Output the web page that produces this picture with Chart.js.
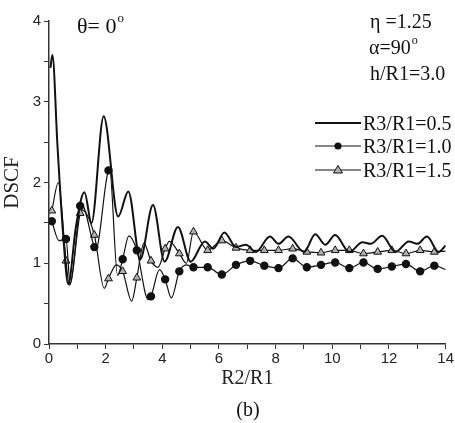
<!DOCTYPE html>
<html>
<head>
<meta charset="utf-8">
<script src="https://cdn.jsdelivr.net/npm/chart.js@4.4.1/dist/chart.umd.min.js"></script>
<style>
  html, body { margin: 0; padding: 0; background: #fff; }
</style>
</head>
<body>
<canvas id="dscfChart" width="455" height="423"></canvas>
<script>
// x positions where the symbols sit on the R3/R1=1.0 and 1.5 curves
const markX = [0.1, 0.6, 1.1, 1.6, 2.1, 2.6, 3.1, 3.6, 4.1, 4.6, 5.1, 5.6, 6.1, 6.6,
               7.1, 7.6, 8.1, 8.6, 9.1, 9.6, 10.1, 10.6, 11.1, 11.6, 12.1, 12.6, 13.1, 13.6];

// R3/R1 = 0.5 (plain thick line)
const r05X = [0.05, 0.12, 0.3, 0.5, 0.68, 0.95, 1.25, 1.5, 1.93, 2.44, 2.8, 3.22, 3.67, 4.08,
              4.55, 5.0, 5.5, 5.8, 6.19, 6.6, 6.95, 7.3, 7.8, 8.1, 8.45, 9.0, 9.4, 9.75, 10.1,
              10.6, 11.06, 11.35, 11.76, 12.23, 12.7, 13.0, 13.34, 13.75, 14.0];
const r05Y = [3.42, 3.58, 2.45, 1.35, 0.74, 1.45, 1.88, 1.5, 2.82, 1.58, 1.89, 1.05, 1.72, 1.02,
              1.45, 1.02, 1.27, 1.18, 1.38, 1.2, 1.23, 1.14, 1.33, 1.24, 1.33, 1.14, 1.36, 1.23, 1.35,
              1.14, 1.26, 1.24, 1.34, 1.14, 1.27, 1.24, 1.33, 1.14, 1.22];

// R3/R1 = 1.0 (filled dots): values at the symbols, then extra turning points
const r10Mark = [1.52, 1.30, 1.71, 1.20, 2.15, 1.05, 1.16, 0.59, 0.80, 0.90, 0.95, 0.95, 0.86, 0.98,
                 1.03, 0.97, 0.94, 1.06, 0.95, 0.98, 1.01, 0.94, 1.01, 0.93, 0.96, 0.99, 0.90, 0.97];
const r10ExtraX = [0.35, 0.75, 1.15, 1.65, 2.14, 2.42, 2.82, 3.5, 3.9, 4.32, 4.85, 14.0];
const r10ExtraY = [1.28, 0.74, 1.73, 1.17, 2.16, 0.85, 1.34, 0.55, 0.92, 0.57, 0.98, 0.92];

// R3/R1 = 1.5 (open triangles)
const r15Mark = [1.65, 1.03, 1.62, 1.35, 0.81, 0.90, 0.82, 1.03, 1.18, 1.12, 1.39, 1.16, 1.28, 1.19,
                 1.16, 1.16, 1.16, 1.18, 1.14, 1.13, 1.16, 1.16, 1.12, 1.14, 1.16, 1.12, 1.16, 1.14];
const r15ExtraX = [0.33, 0.72, 1.15, 1.95, 2.38, 2.92, 3.35, 3.85, 4.25, 4.85, 14.0];
const r15ExtraY = [2.0, 0.73, 1.66, 0.69, 0.98, 0.53, 1.25, 0.95, 1.27, 1.0, 1.15];

const xTicks = [0, 2, 4, 6, 8, 10, 12, 14];
const yTicks = [0, 1, 2, 3, 4];

function buildSeries(mark, ex, ey) {
    const pts = markX.map((x, i) => ({ x: x, y: mark[i], m: true }));
    ex.forEach((x, i) => pts.push({ x: x, y: ey[i], m: false }));
    return pts.sort((a, b) => a.x - b.x);
}

const serif = 'Liberation Serif, Times New Roman, serif';
const sans = 'Liberation Sans, Arial, sans-serif';

// texts, legend and caption drawn on top of the plot
const notes = {
    id: 'notes',
    afterDraw(chart) {
        const c = chart.ctx;
        c.save();
        c.fillStyle = '#111';
        c.textBaseline = 'alphabetic';
        c.textAlign = 'left';

        c.font = '22px ' + serif;
        c.fillText('\u03b8= 0', 77, 33);
        let w = c.measureText('\u03b8= 0').width;
        c.font = '13px ' + serif;
        c.fillText('o', 77 + w + 1, 22);

        c.font = '20px ' + serif;
        c.fillText('\u03b7 =1.25', 370, 28);
        c.fillText('\u03b1=90', 369, 54);
        w = c.measureText('\u03b1=90').width;
        c.font = '12px ' + serif;
        c.fillText('o', 369 + w + 1, 44);
        c.font = '20px ' + serif;
        c.fillText('h/R1=3.0', 370, 80);

        const rows = [
            { y: 123, text: 'R3/R1=0.5', lw: 2, mark: null },
            { y: 146, text: 'R3/R1=1.0', lw: 1.2, mark: 'dot' },
            { y: 170, text: 'R3/R1=1.5', lw: 1.2, mark: 'tri' }
        ];
        rows.forEach(r => {
            c.strokeStyle = '#111';
            c.lineWidth = r.lw;
            c.beginPath();
            c.moveTo(315, r.y);
            c.lineTo(361, r.y);
            c.stroke();
            if (r.mark === 'dot') {
                c.beginPath();
                c.arc(338, r.y, 3.6, 0, Math.PI * 2);
                c.fill();
            } else if (r.mark === 'tri') {
                c.beginPath();
                c.moveTo(338, r.y - 4.5);
                c.lineTo(342.5, r.y + 3);
                c.lineTo(333.5, r.y + 3);
                c.closePath();
                c.fillStyle = '#b0b0b0';
                c.fill();
                c.lineWidth = 1;
                c.stroke();
                c.fillStyle = '#111';
            }
            c.font = '20px ' + serif;
            c.fillText(r.text, 363, r.y + 7);
        });

        c.textAlign = 'center';
        c.font = '20px ' + serif;
        c.fillText('(b)', 248, 416);
        c.restore();
    }
};

new Chart(document.getElementById('dscfChart'), {
    type: 'line',
    data: {
        datasets: [
            {
                label: 'R3/R1=0.5',
                data: r05X.map((x, i) => ({ x: x, y: r05Y[i] })),
                borderColor: '#111',
                borderWidth: 2,
                pointRadius: 0
            },
            {
                label: 'R3/R1=1.0',
                data: buildSeries(r10Mark, r10ExtraX, r10ExtraY),
                borderColor: '#111',
                borderWidth: 1.2,
                pointRadius: ctx => (ctx.raw && ctx.raw.m ? 3.6 : 0),
                pointBackgroundColor: '#111',
                pointBorderColor: '#111'
            },
            {
                label: 'R3/R1=1.5',
                data: buildSeries(r15Mark, r15ExtraX, r15ExtraY),
                borderColor: '#111',
                borderWidth: 1.2,
                pointStyle: 'triangle',
                pointRadius: ctx => (ctx.raw && ctx.raw.m ? 4.5 : 0),
                pointBackgroundColor: '#b0b0b0',
                pointBorderColor: '#111',
                pointBorderWidth: 1
            }
        ]
    },
    options: {
        responsive: false,
        animation: false,
        cubicInterpolationMode: 'monotone',
        layout: { padding: { top: 21, right: 8, left: 0, bottom: 32 } },
        plugins: {
            legend: { display: false },
            tooltip: { enabled: false }
        },
        scales: {
            x: {
                type: 'linear',
                min: 0,
                max: 14,
                afterFit: s => { s.height = 47; },
                afterBuildTicks: s => { s.ticks = Array.from({ length: 15 }, (_, i) => ({ value: i })); },
                ticks: {
                    autoSkip: false,
                    maxRotation: 0,
                    padding: 1,
                    color: '#222',
                    font: { family: sans, size: 15 },
                    callback: v => (xTicks.includes(v) ? v : '')
                },
                grid: { drawOnChartArea: false, drawTicks: true, tickLength: 5, color: '#333' },
                border: { color: '#333', width: 1.5 },
                title: {
                    display: true,
                    text: 'R2/R1',
                    color: '#222',
                    font: { family: serif, size: 20 },
                    padding: { top: 0, bottom: 0 }
                }
            },
            y: {
                min: 0,
                max: 4,
                afterFit: s => { s.width = 49; },
                afterBuildTicks: s => { s.ticks = Array.from({ length: 9 }, (_, i) => ({ value: i * 0.5 })); },
                ticks: {
                    autoSkip: false,
                    padding: 3,
                    color: '#222',
                    font: { family: sans, size: 15 },
                    callback: v => (yTicks.includes(v) ? v : '')
                },
                grid: { drawOnChartArea: false, drawTicks: true, tickLength: 5, color: '#333' },
                border: { color: '#333', width: 1.5 },
                title: {
                    display: true,
                    text: 'DSCF',
                    color: '#222',
                    font: { family: serif, size: 21 },
                    padding: { top: 0, bottom: 2 }
                }
            }
        }
    },
    plugins: [notes]
});
</script>
</body>
</html>
